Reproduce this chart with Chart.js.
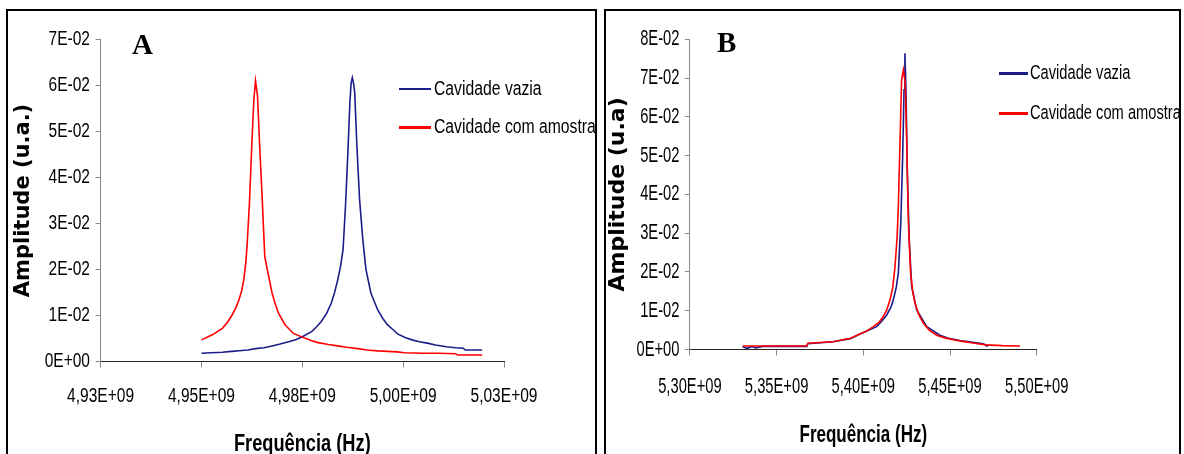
<!DOCTYPE html>
<html><head><meta charset="utf-8">
<script src="https://cdn.jsdelivr.net/npm/chart.js@4.4.1/dist/chart.umd.min.js"></script>
<style>
html,body{margin:0;padding:0;background:#fff;width:1184px;height:454px;overflow:hidden;position:relative;}
.panel{position:absolute;box-sizing:border-box;border:2px solid #000;}
canvas{position:absolute;left:0;top:0;}
.letter{position:absolute;font-family:'Liberation Serif','Times New Roman',serif;font-weight:bold;font-size:29px;line-height:29px;color:#000;}
.leg{position:absolute;font-family:'Liberation Sans',Arial,sans-serif;color:#000;white-space:nowrap;transform-origin:0 0;}
.legline{position:absolute;height:2.5px;}
</style></head><body>
<div class="panel" style="left:6px;top:9px;width:591px;height:470px"></div>
<div class="panel" style="left:604px;top:9px;width:577px;height:470px"></div>
<div id="wrapA" style="position:absolute;left:0;top:0;width:600px;height:454px"><canvas id="cA" width="600" height="454"></canvas></div>
<div id="wrapB" style="position:absolute;left:600px;top:0;width:584px;height:454px"><canvas id="cB" width="584" height="454"></canvas></div>
<div class="letter" style="left:132px;top:30px">A</div>
<div class="letter" style="left:717px;top:28px">B</div>
<script>
// ---------- DATA ----------
const seriesNames = ['Cavidade vazia', 'Cavidade com amostra'];
const seriesColors = ['#1c1c88', '#ff0000'];

// Panel A
const freqA_vazia = [4.9550e9,4.9575e9,4.9602e9,4.9625e9,4.9643e9,4.9665e9,4.9684e9,4.9705e9,4.9725e9,4.9745e9,4.9766e9,4.9785e9,4.9800e9,4.9823e9,4.9835e9,4.9847e9,4.9860e9,4.9872e9,4.9880e9,4.9888e9,4.9895e9,4.9901e9,4.9907e9,4.9913e9,4.9918e9,4.9921e9,4.9924e9,4.9927e9,4.9930e9,4.9935e9,4.9942e9,4.9950e9,4.9958e9,4.9970e9,4.9987e9,5.0000e9,5.0011e9,5.0025e9,5.0036e9,5.0055e9,5.0072e9,5.0090e9,5.0110e9,5.0130e9,5.0157e9,5.0180e9,5.0199e9,5.0204e9,5.0246e9];
const ampA_vazia  = [0.00179,0.0019,0.0020,0.0022,0.00235,0.0025,0.0028,0.0030,0.00338,0.0038,0.0043,0.0048,0.0054,0.0065,0.0075,0.0087,0.0104,0.0127,0.0150,0.0178,0.0208,0.0243,0.0337,0.0454,0.0563,0.0605,0.0617,0.0605,0.0584,0.0475,0.0352,0.0265,0.0199,0.0149,0.0112,0.0093,0.0080,0.0069,0.0060,0.0052,0.0047,0.0043,0.0040,0.0036,0.0032,0.0030,0.0029,0.0025,0.0025];
const freqA_amostra = [4.9550e9,4.9577e9,4.9602e9,4.9615e9,4.9626e9,4.9635e9,4.9643e9,4.9650e9,4.9655e9,4.9660e9,4.9663e9,4.9669e9,4.9675e9,4.9680e9,4.9684e9,4.9689e9,4.9694e9,4.9700e9,4.9707e9,4.9715e9,4.9725e9,4.9733e9,4.9741e9,4.9757e9,4.9778e9,4.9800e9,4.9820e9,4.9839e9,4.9865e9,4.9888e9,4.9910e9,4.9938e9,4.9960e9,4.9987e9,5.0036e9,5.0053e9,5.0100e9,5.0138e9,5.0180e9,5.0185e9,5.0246e9];
const ampA_amostra  = [0.0047,0.0058,0.0072,0.0086,0.0101,0.0116,0.0134,0.0155,0.0178,0.0215,0.0250,0.0345,0.0475,0.0570,0.0610,0.0577,0.0475,0.0366,0.0228,0.0192,0.0149,0.0125,0.0105,0.0080,0.0061,0.0053,0.0046,0.0041,0.0037,0.0034,0.0031,0.0028,0.0025,0.0023,0.0021,0.0019,0.0018,0.0018,0.0017,0.0014,0.0014];
const xTicksA = ['4,93E+09','4,95E+09','4,98E+09','5,00E+09','5,03E+09'];
const yTicksA = ['0E+00','1E-02','2E-02','3E-02','4E-02','5E-02','6E-02','7E-02'];

// Panel B
const freqB_vazia = [5.3304e9,5.3330e9,5.3360e9,5.3380e9,5.3420e9,5.3674e9,5.3680e9,5.3825e9,5.3926e9,5.3981e9,5.4077e9,5.4110e9,5.4135e9,5.4160e9,5.4173e9,5.4190e9,5.4202e9,5.4216e9,5.4227e9,5.4235e9,5.4240e9,5.4246e9,5.4254e9,5.4265e9,5.4279e9,5.4308e9,5.4366e9,5.4442e9,5.4500e9,5.4558e9,5.4620e9,5.4692e9,5.4712e9,5.4725e9];
const ampB_vazia  = [0.0007,0.0003,0.0008,0.0004,0.0008,0.0008,0.0015,0.0020,0.0028,0.0040,0.0059,0.0075,0.0089,0.0110,0.0128,0.0160,0.0197,0.0326,0.0497,0.0670,0.0764,0.0670,0.0455,0.0283,0.0162,0.0102,0.0059,0.0037,0.0028,0.0023,0.0019,0.0015,0.0009,0.0012];
const freqB_amostra = [5.3304e9,5.3500e9,5.3674e9,5.3680e9,5.3825e9,5.3926e9,5.3981e9,5.4020e9,5.4058e9,5.4090e9,5.4115e9,5.4135e9,5.4154e9,5.4170e9,5.4183e9,5.4195e9,5.4202e9,5.4212e9,5.4221e9,5.4231e9,5.4242e9,5.4250e9,5.4260e9,5.4273e9,5.4285e9,5.4298e9,5.4320e9,5.4346e9,5.4380e9,5.4423e9,5.4470e9,5.4519e9,5.4570e9,5.4615e9,5.4660e9,5.4712e9,5.4800e9,5.4904e9];
const ampB_amostra  = [0.0009,0.0009,0.0009,0.0016,0.0020,0.0029,0.0040,0.0048,0.0059,0.0070,0.0085,0.0102,0.0128,0.0160,0.0214,0.0290,0.0368,0.0541,0.0695,0.0721,0.0687,0.0541,0.0326,0.0197,0.0150,0.0119,0.0090,0.0068,0.0050,0.0037,0.0030,0.0025,0.0021,0.0018,0.0015,0.0012,0.0010,0.0009];
const xTicksB = ['5,30E+09','5,35E+09','5,40E+09','5,45E+09','5,50E+09'];
const yTicksB = ['0E+00','1E-02','2E-02','3E-02','4E-02','5E-02','6E-02','7E-02','8E-02'];

const yTitleA = 'Amplitude (u.a.)';
const yTitleB = 'Amplitude (u.a)';
const xTitle = 'Frequência (Hz)';

// ---------- BUILD ----------
const NARROW = "'Liberation Sans',Arial,sans-serif";   // drawn horizontally condensed (Arial Narrow look)
const AXIS = '#8a8a8a';
const XAXIS = '#262626';

function pts(xs, ys){ return xs.map((x,i)=>({x:x, y:ys[i]})); }

// condense text drawn in Liberation Sans to mimic a narrow face
function condense(ctx, normalF, boldF){
  const orig = ctx.fillText.bind(ctx);
  ctx.fillText = function(text, x, y, maxWidth){
    const f = this.font;
    if (f.indexOf('Liberation Sans') >= 0) {
      const k = (/\bbold\b|\b700\b/.test(f)) ? boldF : normalF;
      this.save(); this.translate(x, y); this.scale(k, 1);
      if (maxWidth !== undefined) orig(text, 0, 0, maxWidth / k); else orig(text, 0, 0);
      this.restore();
    } else {
      if (maxWidth !== undefined) orig(text, x, y, maxWidth); else orig(text, x, y);
    }
  };
  return ctx;
}

function buildChart(canvasId, p){
  const datasets = [
    {label: seriesNames[0], data: pts(p.fv, p.av), borderColor: seriesColors[0], order: 1},
    {label: seriesNames[1], data: pts(p.fa, p.aa), borderColor: seriesColors[1], order: 0}
  ].map(d => Object.assign(d, {showLine:true, pointRadius:0, borderWidth:1.6, fill:false, tension:0}));
  const ctx = condense(document.getElementById(canvasId).getContext('2d'), p.kTick, p.kTitle);
  return new Chart(ctx, {
    type: 'scatter',
    data: {datasets},
    options: {
      responsive:false, animation:false, devicePixelRatio:1,
      layout:{padding:{left:p.padL, top:p.padT, right:p.padR, bottom:0}},
      plugins:{legend:{display:false}, tooltip:{enabled:false}},
      scales:{
        x:{
          type:'linear', min:p.xmin, max:p.xmax,
          afterFit: s => { s.height = p.xH; },
          border:{display:true, color:XAXIS, width:1},
          grid:{display:true, drawOnChartArea:false, drawTicks:true, tickLength:6, color:AXIS},
          ticks:{stepSize:p.xstep, autoSkip:false, maxRotation:0, padding:p.xPad, color:'#000',
                 font:{family:NARROW, size:p.tickSize, lineHeight:1.2},
                 callback: v => p.xl[Math.round((v - p.xmin)/p.xstep)]},
          title:{display:true, text:xTitle, color:'#000', padding:{top:0,bottom:p.xtPad},
                 font:{family:NARROW, size:p.xtSize, weight:'bold', lineHeight:1}}
        },
        y:{
          type:'linear', min:0, max:p.ymax,
          afterFit: s => { s.width = p.yW; },
          border:{display:true, color:AXIS, width:1},
          grid:{display:true, drawOnChartArea:false, drawTicks:true, tickLength:5, color:AXIS},
          ticks:{stepSize:0.01, autoSkip:false, padding:p.yPad, color:'#000',
                 font:{family:NARROW, size:p.tickSize, lineHeight:1.2},
                 callback: v => p.yl[Math.round(v/0.01)]},
          title:{display:true, text:p.yTitle, color:'#000', padding:{top:p.ytPad,bottom:0},
                 font:{family:"'DejaVu Sans',sans-serif", size:p.ytSize, weight:'bold', lineHeight:1}}
        }
      }
    }
  });
}

const chartA = buildChart('cA', {
  fv:freqA_vazia, av:ampA_vazia, fa:freqA_amostra, aa:ampA_amostra,
  xmin:4.93e9, xmax:5.03e9, xstep:0.025e9, ymax:0.07, xl:xTicksA, yl:yTicksA,
  padL:10, padT:39.5, padR:96, xH:92.5, yW:90.6,
  xPad:17.3, yPad:5.6, tickSize:19.5, kTick:0.797, xtSize:24, kTitle:0.76, xtPad:-2, ytSize:21, ytPad:3.5, yTitle:yTitleA
});
const chartB = buildChart('cB', {
  fv:freqB_vazia, av:ampB_vazia, fa:freqB_amostra, aa:ampB_amostra,
  xmin:5.30e9, xmax:5.50e9, xstep:0.05e9, ymax:0.08, xl:xTicksB, yl:yTicksB,
  padL:6, padT:39.3, padR:147.3, xH:104.5, yW:83.9,
  xPad:18, yPad:5.4, tickSize:22, kTick:0.67, xtSize:23.3, kTitle:0.73, xtPad:7, ytSize:22, ytPad:1.5, yTitle:yTitleB
});

// HTML legends built from the datasets
function legend(chart, lineX1, lineX2, textX, ys, size, k, textTops){
  chart.data.datasets.forEach((d,i)=>{
    const ln = document.createElement('div');
    ln.className='legline';
    ln.style.left = lineX1+'px'; ln.style.width=(lineX2-lineX1)+'px';
    ln.style.top = (ys[i]-1.25)+'px'; ln.style.background = d.borderColor;
    document.body.appendChild(ln);
    const t = document.createElement('div');
    t.className='leg'; t.textContent = d.label;
    t.style.left = textX+'px'; t.style.top = textTops[i]+'px';
    t.style.fontSize = size+'px'; t.style.lineHeight = size+'px';
    t.style.transform = 'scaleX(' + k + ')';
    document.body.appendChild(t);
  });
}
legend(chartA, 399, 431, 434, [89, 127.3], 20, 0.787, [77.7, 115.7]);
legend(chartB, 999, 1028, 1030, [73.3, 113.3], 20.5, 0.716, [61.7, 101.7]);
</script>
</body></html>
